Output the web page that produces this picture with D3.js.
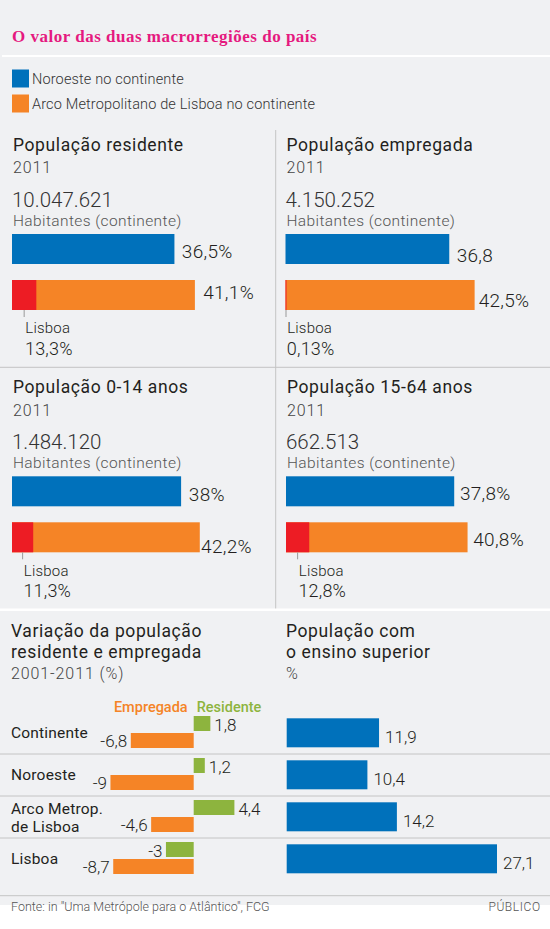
<!DOCTYPE html>
<html><head><meta charset="utf-8">
<script src="https://cdn.jsdelivr.net/npm/d3@7"></script>
<style>
html,body{margin:0;padding:0;background:#fff;}
svg{display:block;}
text{font-family:Roboto,"Noto Sans",sans-serif;}
</style></head>
<body>
<script>
// ---------- DATA ----------
const chartTitle = "O valor das duas macrorregiões do país";
const legendLabels = ["Noroeste no continente", "Arco Metropolitano de Lisboa no continente"];

const panelTitles = ["População residente", "População empregada", "População 0-14 anos", "População 15-64 anos"];
const panelYears = ["2011", "2011", "2011", "2011"];
const panelTotals = ["10.047.621", "4.150.252", "1.484.120", "662.513"];
const panelUnit = "Habitantes (continente)";
const noroesteShare = [36.5, 36.8, 38, 37.8];
const noroesteLabels = ["36,5%", "36,8", "38%", "37,8%"];
const arcoShare = [41.1, 42.5, 42.2, 40.8];
const arcoLabels = ["41,1%", "42,5%", "42,2%", "40,8%"];
const lisboaShare = [13.3, 0.13, 11.3, 12.8];     // % of the Arco bar
const lisboaLabels = ["13,3%", "0,13%", "11,3%", "12,8%"];

const varTitle = ["Variação da população", "residente e empregada", "2001-2011 (%)"];
const regions = ["Continente", "Noroeste", "Arco Metrop.|de Lisboa", "Lisboa"];
const varResidente = [1.8, 1.2, 4.4, -3];
const varEmpregada = [-6.8, -9, -4.6, -8.7];
const varResLabels = ["1,8", "1,2", "4,4", "-3"];
const varEmpLabels = ["-6,8", "-9", "-4,6", "-8,7"];

const eduTitle = ["População com", "o ensino superior", "%"];
const eduValues = [11.9, 10.4, 14.2, 27.1];
const eduLabels = ["11,9", "10,4", "14,2", "27,1"];

const sourceText = "Fonte: in \"Uma Metrópole para o Atlântico\", FCG";
const brandText = "PÚBLICO";

// ---------- STYLE / LAYOUT ----------
const W = 550, H = 929;
const C = {
  bg: "#f0f1f3", blue: "#0071bb", orange: "#f58426", red: "#ed1c24", green: "#8db43e",
  pink: "#e5197f", ink: "#231f20", grey: "#555", line: "#c4c4c4"
};
const panelX = [12, 285.5, 12, 286];
const panelDY = [0, 0, 242.3, 242.3];
const labelOff = [ // [blue dx, blue dy from bottom, orange dx, orange dy from bottom]
  [7.4, -5.7, 8.3, -10.7],
  [7.4, -1.7, 4, -3.3],
  [7.7, -5.3, 1.3, 0.3],
  [5.7, -6, 5.7, -6.4]
];
const titleStyle = s => s.style("font-size", "17.5px").style("font-weight", 400).style("letter-spacing", "0.6px").attr("fill", C.ink);
const subStyle = s => s.style("font-size", "16px").style("font-weight", 300).style("letter-spacing", "0.9px").attr("fill", "#444");

const svg = d3.select("body").append("svg").attr("width", W).attr("height", H);
svg.append("rect").attr("width", W).attr("height", 905).attr("fill", C.bg);

// title
svg.append("text").attr("x", 12).attr("y", 41.5).text(chartTitle)
  .style("font-family", "'Liberation Serif',serif").style("font-weight", 700)
  .style("font-size", "17px").style("letter-spacing", "0.5px").attr("fill", C.pink);
svg.append("rect").attr("x", 2).attr("y", 55).attr("width", W - 2).attr("height", 2).attr("fill", "#fff");

// legend
const legColors = [C.blue, C.orange];
legendLabels.forEach((t, i) => {
  svg.append("rect").attr("x", 12).attr("y", 69.5 + i * 25).attr("width", 17).attr("height", 18).attr("fill", legColors[i]);
  svg.append("text").attr("x", 32).attr("y", 84 + i * 25).text(t)
    .style("font-size", "14.5px").style("font-weight", 300).style("letter-spacing", "0.15px").attr("fill", "#333");
});

// separators of panels
svg.append("line").attr("x1", 275.7).attr("x2", 275.7).attr("y1", 130).attr("y2", 609)
  .attr("stroke", C.line).attr("stroke-width", 1);
svg.append("line").attr("x1", 0).attr("x2", W).attr("y1", 367.3).attr("y2", 367.3)
  .attr("stroke", C.line).attr("stroke-width", 1);
svg.append("rect").attr("x", 0).attr("y", 608.5).attr("width", W).attr("height", 2.5).attr("fill", "#fff");

// ---------- four share panels ----------
const xShare = d3.scaleLinear().domain([0, 100]).range([0, 445]);
panelTitles.forEach((title, i) => {
  const g = svg.append("g").attr("transform", `translate(${panelX[i]},${panelDY[i]})`);
  g.append("text").attr("x", 1).attr("y", 150.7).text(title).call(titleStyle);
  g.append("text").attr("x", 1).attr("y", 173.3).text(panelYears[i]).call(subStyle);
  g.append("text").attr("x", 0).attr("y", 206.7).text(panelTotals[i])
    .style("font-size", "20.5px").style("font-weight", 300).attr("fill", "#333");
  g.append("text").attr("x", 1).attr("y", 225.5).text(panelUnit)
    .style("font-size", "15.5px").style("font-weight", 300).style("letter-spacing", "0.4px").attr("fill", "#555");

  const blueTop = 234, orangeTop = 280, bh = 30;
  g.append("rect").attr("x", xShare(0)).attr("y", blueTop).attr("width", xShare(noroesteShare[i]) - xShare(0)).attr("height", bh).attr("fill", C.blue);
  const wOr = xShare(arcoShare[i]) - xShare(0);
  g.append("rect").attr("x", xShare(0)).attr("y", orangeTop).attr("width", wOr).attr("height", bh).attr("fill", C.orange);
  const redScale = d3.scaleLinear().domain([0, 100]).range([0, wOr]);
  const wRed = Math.max(redScale(lisboaShare[i]), 1);
  g.append("rect").attr("x", xShare(0)).attr("y", orangeTop).attr("width", wRed).attr("height", bh).attr("fill", C.red);
  const tickX = xShare(0) + Math.max(wRed / 2, 0.5);
  g.append("line").attr("x1", tickX).attr("x2", tickX).attr("y1", orangeTop + bh).attr("y2", orangeTop + bh + 7)
    .attr("stroke", "#999").attr("stroke-width", 1);
  g.append("text").attr("x", tickX + 1.2).attr("y", 333.3).text("Lisboa")
    .style("font-size", "15px").style("font-weight", 300).style("letter-spacing", "0.2px").attr("fill", C.ink);
  g.append("text").attr("x", tickX + 0.8).attr("y", 355).text(lisboaLabels[i])
    .style("font-size", "18px").style("font-weight", 300).style("letter-spacing", "0.2px").attr("fill", C.ink);

  const o = labelOff[i];
  g.append("text").attr("x", xShare(noroesteShare[i]) + o[0]).attr("y", blueTop + bh + o[1]).text(noroesteLabels[i])
    .style("font-size", "19px").style("font-weight", 300).style("letter-spacing", "0.3px").attr("fill", C.ink);
  g.append("text").attr("x", xShare(arcoShare[i]) + o[2]).attr("y", orangeTop + bh + o[3]).text(arcoLabels[i])
    .style("font-size", "19px").style("font-weight", 300).style("letter-spacing", "0.3px").attr("fill", C.ink);
});

// ---------- bottom section ----------
[[varTitle, 11], [eduTitle, 286]].forEach(([lines, x]) => {
  lines.forEach((t, i) => {
    const tx = svg.append("text").attr("x", x).attr("y", 636.7 + i * 21.3).text(t);
    if (i < 2) tx.call(titleStyle); else tx.call(subStyle);
  });
});

const yRow = d3.scaleBand().domain(regions).range([712, 880]).paddingInner(0);
// row separator lines
regions.slice(0, -1).forEach(r => {
  svg.append("line").attr("x1", 0).attr("x2", W).attr("y1", yRow(r) + yRow.bandwidth()).attr("y2", yRow(r) + yRow.bandwidth())
    .attr("stroke", C.line).attr("stroke-width", 1);
});
svg.append("line").attr("x1", 0).attr("x2", W).attr("y1", 895.7).attr("y2", 895.7)
  .attr("stroke", C.line).attr("stroke-width", 1);

// variation chart
const xVar = d3.scaleLinear().domain([-10, 5]).range([193.7 - 92.5, 193.7 + 46.25]);
svg.append("text").attr("x", xVar(0) - 6).attr("y", 711.7).attr("text-anchor", "end").text("Empregada")
  .style("font-size", "14.5px").style("font-weight", 500).attr("fill", C.orange);
svg.append("text").attr("x", xVar(0) + 3).attr("y", 711.7).text("Residente")
  .style("font-size", "14.5px").style("font-weight", 500).attr("fill", C.green);

regions.forEach((r, i) => {
  const y0 = yRow(r);
  const lines = r.split("|");
  const catStyle = s => s.style("font-size", "15.5px").style("font-weight", 400).style("letter-spacing", "0.2px").attr("fill", C.ink);
  if (lines.length === 1) {
    svg.append("text").attr("x", 11).attr("y", y0 + 25.5).text(lines[0]).call(catStyle);
  } else {
    lines.forEach((l, k) => svg.append("text").attr("x", 11).attr("y", y0 + 18 + k * 17.7).text(l).call(catStyle));
  }
  const gy = y0 + 4, oy = y0 + 21, bh = 15;
  const rv = varResidente[i], ev = varEmpregada[i];
  svg.append("rect").attr("x", xVar(Math.min(0, rv))).attr("y", gy).attr("width", Math.abs(xVar(rv) - xVar(0))).attr("height", bh).attr("fill", C.green);
  svg.append("rect").attr("x", xVar(Math.min(0, ev))).attr("y", oy).attr("width", Math.abs(xVar(ev) - xVar(0))).attr("height", bh).attr("fill", C.orange);
  svg.append("text").attr("x", rv >= 0 ? xVar(rv) + 4 : xVar(rv) - 3.5).attr("y", gy + 14.5)
    .attr("text-anchor", rv >= 0 ? "start" : "end").text(varResLabels[i])
    .style("font-size", "17px").style("font-weight", 300).attr("fill", C.ink);
  svg.append("text").attr("x", xVar(ev) - 3.5).attr("y", oy + 14)
    .attr("text-anchor", "end").text(varEmpLabels[i])
    .style("font-size", "17px").style("font-weight", 300).attr("fill", C.ink);
});

// education chart
const xEdu = d3.scaleLinear().domain([0, 30]).range([286.7, 286.7 + 232.8]);
regions.forEach((r, i) => {
  const y0 = yRow(r) + 6.3;
  svg.append("rect").attr("x", xEdu(0)).attr("y", y0).attr("width", xEdu(eduValues[i]) - xEdu(0)).attr("height", 29).attr("fill", C.blue);
  svg.append("text").attr("x", xEdu(eduValues[i]) + 6).attr("y", y0 + 25).text(eduLabels[i])
    .style("font-size", "17px").style("font-weight", 300).attr("fill", C.ink);
});

// footer
svg.append("text").attr("x", 11).attr("y", 910.5).text(sourceText)
  .style("font-size", "12.5px").style("font-weight", 300).attr("fill", "#555");
svg.append("text").attr("x", 540.7).attr("y", 910.5).attr("text-anchor", "end").text(brandText)
  .style("font-size", "12px").style("font-weight", 300).style("letter-spacing", "0.6px").attr("fill", "#555");
</script>
</body></html>
